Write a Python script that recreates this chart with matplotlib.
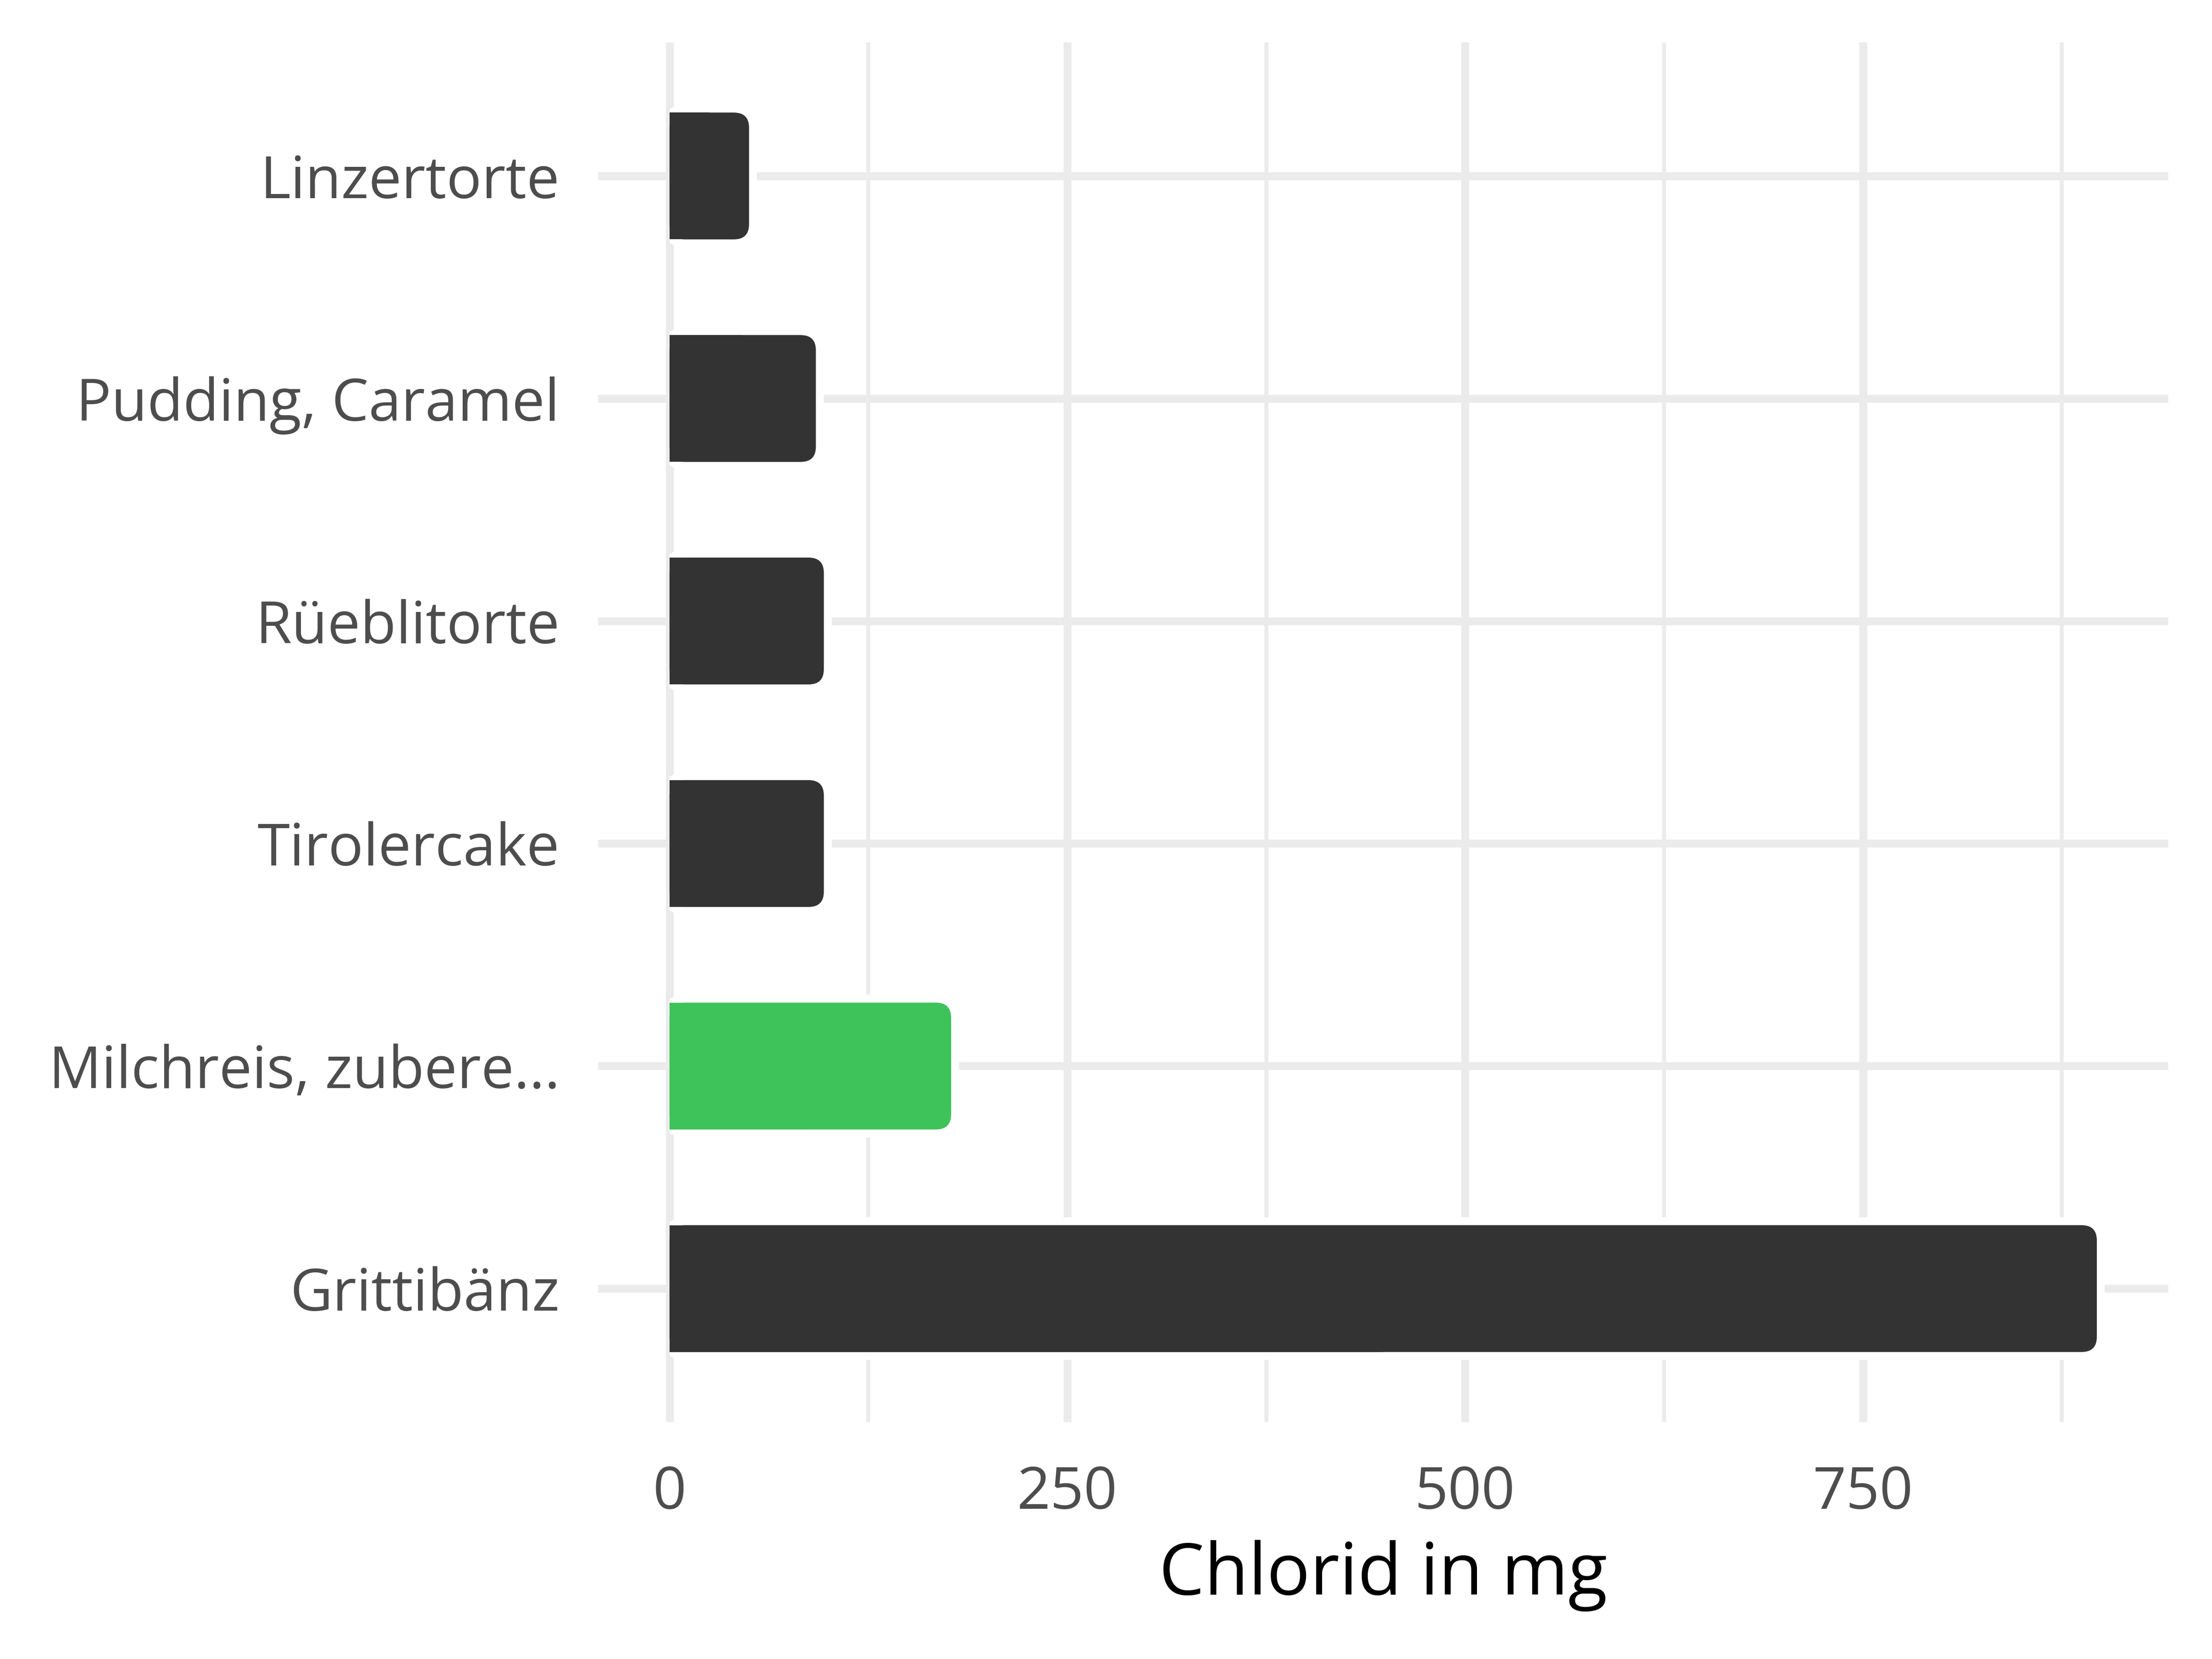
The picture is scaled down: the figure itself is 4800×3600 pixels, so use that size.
import matplotlib
matplotlib.use("Agg")
import matplotlib.pyplot as plt
from matplotlib.patches import FancyBboxPatch, Rectangle
from matplotlib.ticker import MultipleLocator

plt.rcParams['font.family'] = ['Open Sans', 'DejaVu Sans']

categories = ["Linzertorte", "Pudding, Caramel", "Rüeblitorte", "Tirolercake",
              "Milchreis, zubere...", "Grittibänz"]
values = [50, 92, 97, 97, 177, 897]
colors = ["#333333", "#333333", "#333333", "#333333", "#3EC35A", "#333333"]
xticks = [0, 250, 500, 750]
xlabel = "Chlorid in mg"

fig = plt.figure(figsize=(16, 12), dpi=300)
ax = fig.add_axes([0.2704, 0.1428, 0.7098, 0.8316])

n = len(categories)
ypos = [n - 1 - i for i in range(n)]
xmax = max(values)
ax.set_xlim(-0.05 * xmax, xmax * 1.05)
ax.set_ylim(-0.6, n - 1 + 0.6)

grid_col = "#EBEBEB"
ax.set_xticks(xticks)
ax.xaxis.set_minor_locator(MultipleLocator(125))
ax.set_yticks(ypos)
ax.set_yticklabels(categories)
ax.grid(True, which='major', color=grid_col, linewidth=4.1, zorder=0)
ax.grid(True, which='minor', axis='x', color=grid_col, linewidth=2.0, zorder=0)
ax.set_axisbelow(True)
for s in ax.spines.values():
    s.set_visible(False)
ax.tick_params(axis='both', which='both', length=0, labelsize=30.5, labelcolor="#4D4D4D")
ax.tick_params(axis='y', pad=20)
ax.tick_params(axis='x', pad=22)
ax.set_xlabel(xlabel, fontsize=37.5, color="black", labelpad=9)

# bar geometry
h = 0.57
fig.canvas.draw()
bbox = ax.get_window_extent()
px_per_x = bbox.width / (ax.get_xlim()[1] - ax.get_xlim()[0])
px_per_y = bbox.height / (ax.get_ylim()[1] - ax.get_ylim()[0])
r_px = 33
rx = r_px / px_per_x
ry = r_px / px_per_y

for y, v, c in zip(ypos, values, colors):
    halo = FancyBboxPatch((0, y - h / 2), v, h,
                          boxstyle=f"round,pad=0,rounding_size={rx}",
                          mutation_aspect=ry / rx,
                          facecolor="white", edgecolor="white", linewidth=8.2,
                          zorder=2)
    ax.add_patch(halo)
    clip = Rectangle((0, y - h), v + 100, 2 * h, transform=ax.transData)
    halo.set_clip_path(clip)
    bar = FancyBboxPatch((0, y - h / 2), v, h,
                         boxstyle=f"round,pad=0,rounding_size={rx}",
                         mutation_aspect=ry / rx,
                         facecolor=c, edgecolor="none", zorder=3)
    ax.add_patch(bar)
    ax.add_patch(Rectangle((0, y - h / 2), v / 2, h, facecolor=c,
                           edgecolor="none", zorder=3))

fig.savefig("out.png", dpi=300, facecolor="white")
